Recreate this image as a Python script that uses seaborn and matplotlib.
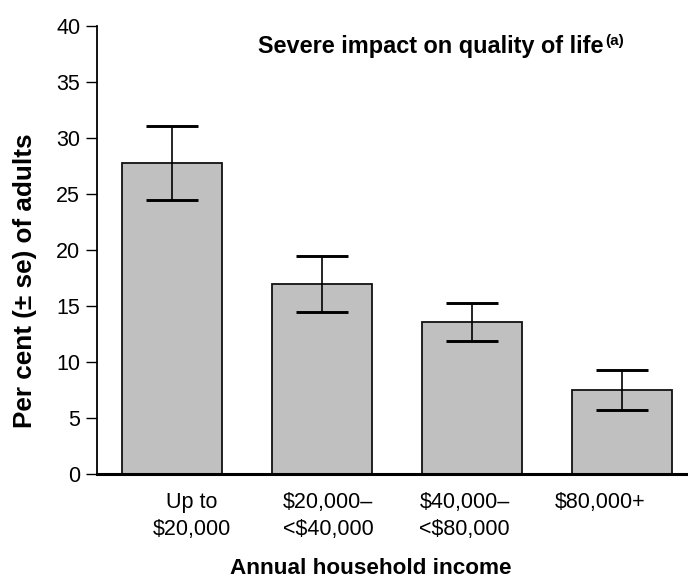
import matplotlib
matplotlib.use("Agg")
import matplotlib.pyplot as plt
import seaborn as sns
import pandas as pd

categories = ["Up to\n$20,000", "$20,000–\n<$40,000", "$40,000–\n<$80,000", "$80,000+"]
values = [27.8, 17.0, 13.6, 7.5]
se = [3.3, 2.5, 1.7, 1.8]
yticks = [0, 5, 10, 15, 20, 25, 30, 35, 40]
title = "Severe impact on quality of life"
title_note = "(a)"
xlabel = "Annual household income"
ylabel = "Per cent (± se) of adults"

sns.set_theme(style="ticks")
plt.rcParams["font.family"] = ["Liberation Sans", "DejaVu Sans"]
plt.rcParams.update({"text.color": "black", "xtick.color": "black",
                     "ytick.color": "black", "axes.labelcolor": "black",
                     "axes.edgecolor": "black"})

W, H = 688, 579
fig = plt.figure(figsize=(W / 100, H / 100), dpi=100)
ax = fig.add_axes([97.3 / W, 105 / H, 600 / W, 448 / H])

df = pd.DataFrame({"income": categories, "pct": values})
sns.barplot(data=df, x="income", y="pct", order=categories, color="#c0c0c0",
            saturation=1, width=0.667, edgecolor="#111111", linewidth=1.3,
            errorbar=None, ax=ax)
ax.errorbar(x=list(range(len(categories))), y=values, yerr=se, fmt="none",
            ecolor="black", elinewidth=1.2, capsize=18.4, capthick=2.1, zorder=5)

ax.set_xlim(-0.5, 3.5)
ax.set_ylim(0, 40)
ax.set_yticks(yticks)
ax.set_yticklabels([str(t) for t in yticks], fontsize=15.5)
ax.tick_params(axis="y", length=8, width=1.0, pad=4.3, colors="black")

label_pos = [0.129, 1.04, 1.95, 2.852]
ax.set_xticks(label_pos)
ax.set_xticklabels(categories, fontsize=15.5, linespacing=1.38)
ax.tick_params(axis="x", length=0, pad=13, colors="black")

for s in ["top", "right"]:
    ax.spines[s].set_visible(False)
ax.spines["left"].set_linewidth(1.3)
ax.spines["left"].set_color("black")
ax.spines["bottom"].set_linewidth(2.2)
ax.spines["bottom"].set_color("black")
ax.set_xlabel("")
ax.set_ylabel("")

fig.text(371 / W, 1 - 569 / H, xlabel, ha="center", va="center",
         fontsize=16.2, fontweight="bold", color="black")
fig.text(25 / W, 1 - 280.5 / H, ylabel, ha="center", va="center", rotation=90,
         fontsize=18.8, fontweight="bold", color="black")

t = fig.text(258.3 / W, 1 - 53.3 / H, title, ha="left", va="baseline",
             fontsize=16.9, fontweight="bold", color="black")
fig.canvas.draw()
bb = t.get_window_extent()
fig.text((bb.x1 + 1) / W, 1 - 45 / H, title_note, ha="left", va="baseline",
         fontsize=11, fontweight="bold", color="black")

fig.savefig("out.png", dpi=100)
